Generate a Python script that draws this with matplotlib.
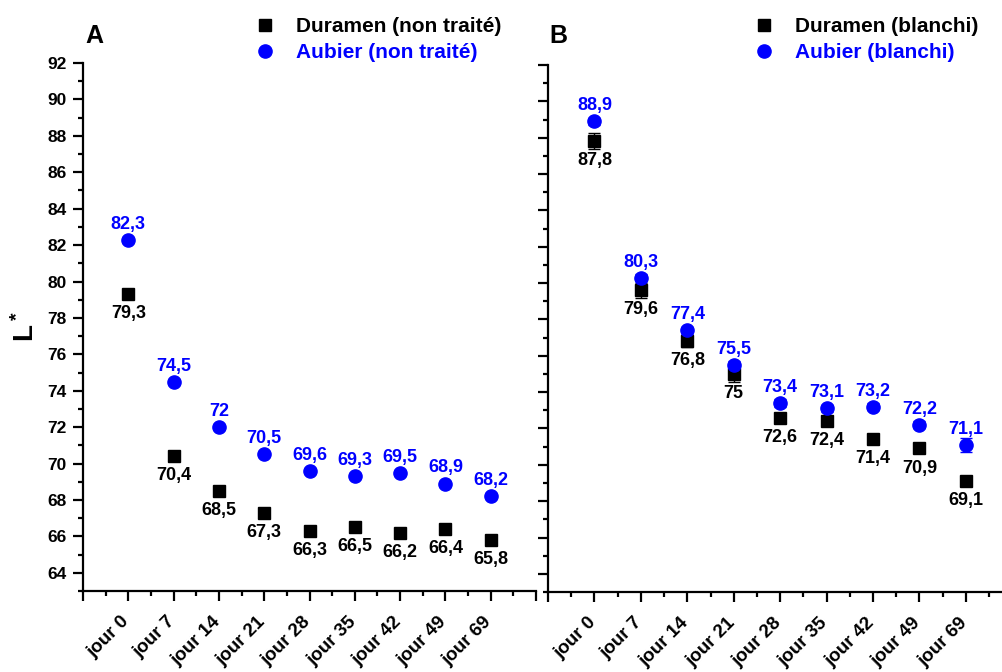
import numpy as np
import matplotlib
matplotlib.use("Agg")
import matplotlib.pyplot as plt
import matplotlib.transforms as mtransforms
from matplotlib.ticker import MultipleLocator, FixedLocator

plt.rcParams['font.family'] = ['Liberation Sans', 'DejaVu Sans']
plt.rcParams['font.weight'] = 'bold'
plt.rcParams['mathtext.fontset'] = 'custom'
plt.rcParams['mathtext.rm'] = 'Liberation Sans:bold'
plt.rcParams['mathtext.bf'] = 'Liberation Sans:bold'

# data
jours = ["jour 0", "jour 7", "jour 14", "jour 21", "jour 28",
         "jour 35", "jour 42", "jour 49", "jour 69"]

duramen_nt = [79.3, 70.4, 68.5, 67.3, 66.3, 66.5, 66.2, 66.4, 65.8]
aubier_nt = [82.3, 74.5, 72, 70.5, 69.6, 69.3, 69.5, 68.9, 68.2]

duramen_bl = [87.8, 79.6, 76.8, 75, 72.6, 72.4, 71.4, 70.9, 69.1]
aubier_bl = [88.9, 80.3, 77.4, 75.5, 73.4, 73.1, 73.2, 72.2, 71.1]
duramen_bl_err = [0.45, 0.4, 0.3, 0.45, 0.2, 0.2, 0.2, 0.2, 0.2]
aubier_bl_err = [0.2, 0.2, 0.2, 0.2, 0.2, 0.2, 0.2, 0.2, 0.4]

BLUE = '#0000FF'
x = np.arange(1, len(jours) + 1)


def fmt(v):
    return f"{v:g}".replace('.', ',')


def setup_axes(ax, xmax, show_ylabels):
    ax.set_xlim(0, xmax)
    ax.set_ylim(63, 92)
    for s in ['top', 'right']:
        ax.spines[s].set_visible(False)
    for s in ['left', 'bottom']:
        ax.spines[s].set_linewidth(1.6)
    ax.xaxis.set_major_locator(FixedLocator(np.arange(0, 11)))
    ax.xaxis.set_minor_locator(MultipleLocator(0.5))
    ax.yaxis.set_major_locator(FixedLocator(np.arange(64, 93, 2)))
    ax.yaxis.set_minor_locator(MultipleLocator(1))
    ax.tick_params(which='major', length=7, width=1.6, labelsize=12.5)
    ax.tick_params(which='minor', length=3.6, width=1.6)
    ax.tick_params(axis='x', which='major', pad=9)
    ax.tick_params(axis='y', which='major', pad=5)
    ax.set_xticklabels([""] + jours + [""] * (11 - 1 - len(jours)),
                       rotation=45, ha='right', va='top', fontweight='bold',
                       fontsize=13.5)
    shift = mtransforms.ScaledTranslation(0.045, 0, fig.dpi_scale_trans)
    for lab in ax.get_xticklabels():
        lab.set_transform(lab.get_transform() + shift)
    if show_ylabels:
        for lab in ax.get_yticklabels():
            lab.set_fontweight('bold')
    else:
        ax.tick_params(axis='y', labelleft=False)


def plot_panel(ax, dur, aub, dur_lab, aub_lab, dur_err=None, aub_err=None):
    ax.errorbar(x, dur, yerr=dur_err, fmt='s', color='black', ms=8.5,
                capsize=4, elinewidth=1, capthick=1, label=dur_lab, zorder=3)
    ax.errorbar(x, aub, yerr=aub_err, fmt='o', color=BLUE, ms=9.5,
                capsize=4, elinewidth=1, capthick=1, label=aub_lab, zorder=3)
    for xi, v in zip(x, dur):
        ax.annotate(fmt(v), (xi, v), xytext=(0, -8), textcoords='offset points',
                    ha='center', va='top', fontsize=13, fontweight='bold',
                    color='black')
    for xi, v in zip(x, aub):
        ax.annotate(fmt(v), (xi, v), xytext=(0, 8), textcoords='offset points',
                    ha='center', va='baseline', fontsize=13, fontweight='bold',
                    color=BLUE)


fig = plt.figure(figsize=(10.03, 6.72), dpi=100)
axA = fig.add_axes([0.0828, 0.1205, 0.4516, 0.7857])
axB = fig.add_axes([0.5464, 0.1190, 0.4536, 0.7843])

plot_panel(axA, duramen_nt, aubier_nt, "Duramen (non traité)", "Aubier (non traité)")
plot_panel(axB, duramen_bl, aubier_bl, "Duramen (blanchi)", "Aubier (blanchi)",
           duramen_bl_err, aubier_bl_err)

setup_axes(axA, 10, True)
setup_axes(axB, 9.8, False)

axA.set_ylabel(r'$\mathregular{L^*}$', fontsize=20, fontweight='bold', labelpad=5)

for ax, lx in [(axA, 0.2538), (axB, 0.7513)]:
    h, l = ax.get_legend_handles_labels()
    h = [hh[0] for hh in h]
    leg = ax.legend(h, l, loc='center left', bbox_to_anchor=(lx, 0.941),
                    bbox_transform=fig.transFigure, frameon=False,
                    borderpad=0, borderaxespad=0, handlelength=1.0,
                    handletextpad=1.0, labelspacing=0.35,
                    prop={'size': 15, 'weight': 'bold'}, labelcolor='linecolor')

fig.text(0.0847, 0.936, "A", fontsize=18, fontweight='bold', ha='left', va='baseline')
fig.text(0.5474, 0.936, "B", fontsize=18, fontweight='bold', ha='left', va='baseline')

fig.savefig("out.png", dpi=100)
